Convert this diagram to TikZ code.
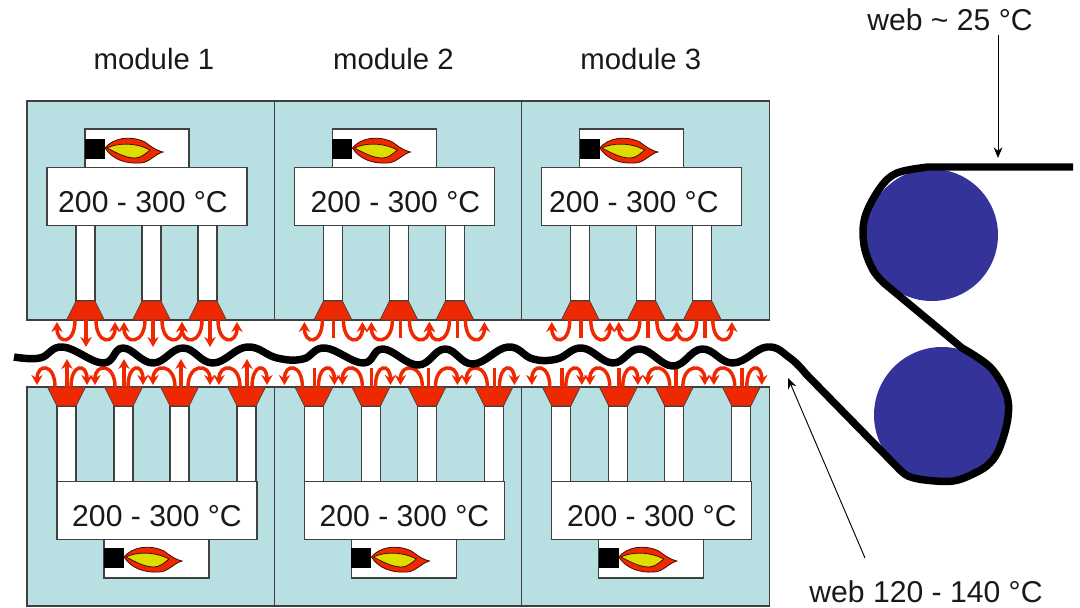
\documentclass[tikz,border=0pt]{standalone}
\usepackage{fontspec}
\setmainfont{Liberation Sans}
\usetikzlibrary{arrows.meta}
\definecolor{bain}{HTML}{B8DFE2}
\definecolor{bord}{HTML}{404040}
\definecolor{feu}{HTML}{EE2800}
\definecolor{jaune}{HTML}{DDDD00}
\definecolor{rouleau}{HTML}{333399}
\tikzset{
  caisson/.style={draw=bord,line width=.8pt,fill=bain},
  boite/.style={draw=bord,line width=.8pt,fill=white},
  buse/.style={draw=bord,line width=.5pt,fill=feu},
  texte/.style={font=\fontsize{22.6}{26}\selectfont,text=black!90,inner sep=3pt},
  titre/.style={font=\fontsize{22}{26}\selectfont,text=black!90,inner sep=3pt},
  flux/.style={draw=feu,line width=2.6pt,-{Stealth[length=7.5pt,width=8.5pt]}},
  fluxsimple/.style={draw=feu,line width=2.6pt},
  fil/.style={draw=black,line width=.7pt,-{Stealth[length=8pt,width=6.5pt]}},
  web/.style={draw=black,line width=5.6pt,line join=round},
  pics/bruleur/.style={code={
    \fill[black] (0,0) rectangle (20,20);
    \draw[draw=black!70!feu,line width=.6pt,fill=feu] (20,9) .. controls (28,-1) and (45,-4) .. (60,3) .. controls (64,6) and (70,11) .. (78,13) .. controls (70,15) and (64,24) .. (55,24) .. controls (40,25) and (27,20) .. (20,9);
    \draw[draw=black!70!feu,line width=.6pt,fill=jaune] (22,9) .. controls (32,4) and (50,3) .. (65,11) .. controls (60,15) and (56,19) .. (50,19) .. controls (40,19) and (30,13) .. (22,9);
  }}
}
\begin{document}
\begin{tikzpicture}[x=.75pt,y=-.75pt]
	\useasboundingbox (0,0) rectangle (1080,607);
	\foreach \m/\sty/\yh/\yb/\tt/\tb/\lab in {0/flux/347/359/143/157/154,1/fluxsimple/338/368/148/157/146,2/fluxsimple/338/368/139/157/146}{
		\begin{scope}[shift={(247.4*\m,0)}]
			\draw[caisson] (27,101) rectangle (275,320);
			\draw[caisson] (27,387) rectangle (275,606);
			\draw[boite] (85,129) rectangle (189,168);
			\pic at (85,139) {bruleur};
			\foreach \d in {76,142,198}{
				\draw[boite] (\d,225) rectangle (\d+19,301);
				\draw[buse] (\d,301) -- (\d+19,301) -- (\d+28.5,320) -- (\d-9.5,320) -- cycle;
			}
			\node[boite,minimum width=150pt,minimum height=43pt,inner sep=0pt] (Ch\m) at (147,196.5) {};
			\node[texte] (Tc\m) at (\tt,202) {200 - 300 °C};
			\node[titre] (Mo\m) at (\lab,59) {module \the\numexpr\m+1\relax};
			\foreach \ls/\lh/\st/\rs/\rh in {75/57/86/96/115,145/124/153/162/182,202/182/210/218/237}{
				\draw[flux] (\ls,320) .. controls (\ls,345) and (\lh,345) .. (\lh,322);
				\draw[\sty] (\st,320) -- (\st,\yh);
				\draw[flux] (\rs,320) .. controls (\rs,345) and (\rh,345) .. (\rh,322);
			}
			\draw[boite] (104,539) rectangle (209,578);
			\pic at (104,548) {bruleur};
			\foreach \d in {57,114,170,237}{
				\draw[boite] (\d,406) rectangle (\d+19,482);
				\draw[buse] (\d,406) -- (\d+19,406) -- (\d+28.5,387) -- (\d-9.5,387) -- cycle;
			}
			\node[boite,minimum width=150pt,minimum height=43pt,inner sep=0pt] (Cb\m) at (157,510.5) {};
			\node[texte] (Tb\m) at (\tb,516) {200 - 300 °C};
			\foreach \ls/\lh/\st/\rs/\rh in {55/37/67/71/87,115/95/124/128/143,175/153/181/188/210,240/219/247/252/267}{
				\draw[flux] (\ls,387) .. controls (\ls,363) and (\lh,363) .. (\lh,385);
				\draw[\sty] (\st,387) -- (\st,\yb);
				\draw[flux] (\rs,387) .. controls (\rs,363) and (\rh,363) .. (\rh,385);
			}
		\end{scope}
	}
	\fill[rouleau] (932,235) circle (66);
	\fill[rouleau] (942,415) circle (68);
	\draw[web] plot[smooth,tension=.7] coordinates {(14,357) (40,358) (63,347) (103,363) (123,348) (153,363) (183,348) (213,363) (247,347) (277,358) (303,359) (325,348) (363,363) (383,349) (418,365) (445,349) (473,364) (508,347) (533,359) (557,359) (582,348) (613,363) (640,349) (673,366) (702,349) (733,363) (767,347) (790,358) (806,374)}
		-- plot[smooth,tension=.6] coordinates {(899,469) (908,476) (925,480) (953,481) (975,473) (990,463) (1000,447) (1008,417) (1006,393) (990,367) (962,348)}
		-- plot[smooth,tension=.6] coordinates {(885,284) (873,270) (864,245) (865,217) (880,188) (897,173) (928,167)}
		-- (1073,167);
	\node[texte] (Wf) at (950,20) {web \textasciitilde{} 25 °C};
	\node[texte] (Wc) at (926,592) {web 120 - 140 °C};
	\coordinate (Fa) at (998,158);
	\coordinate (Ca) at (788,378);
	\coordinate (Cs) at (865,558);
	\draw[fil] (Wf.south -| Fa) -- (Fa);
	\draw[fil] (Cs) -- (Ca);
\end{tikzpicture}
\end{document}
